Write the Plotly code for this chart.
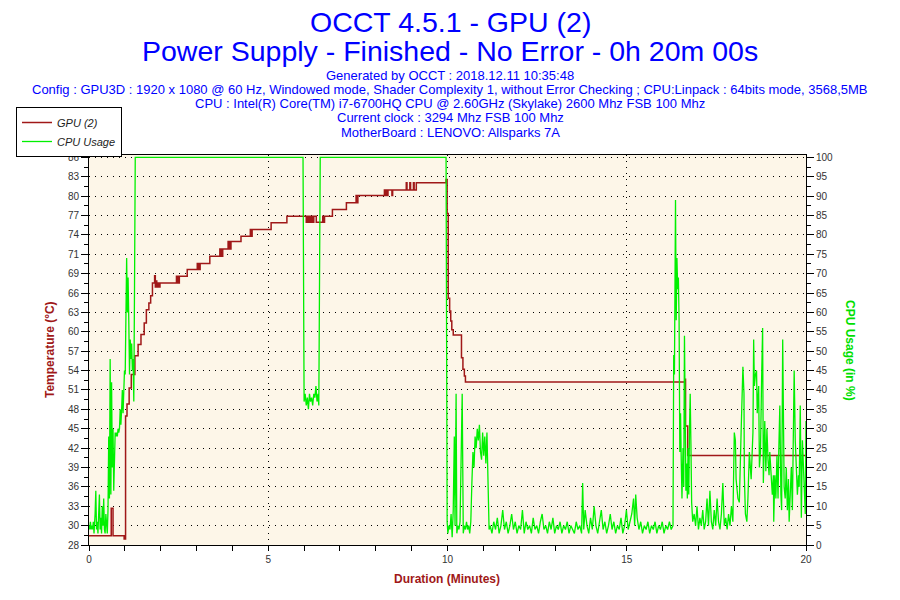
"""OCCT GPU (2) power supply test: GPU temperature and CPU usage over 20 minutes."""

import plotly.graph_objects as go

OUTPUT_FILE = "out.html"

TITLE_LINES = [
    "OCCT 4.5.1 - GPU (2)",
    "Power Supply - Finished - No Error - 0h 20m 00s",
]
INFO_LINES = [
    "Generated by OCCT : 2018.12.11 10:35:48",
    "Config : GPU3D : 1920 x 1080 @ 60 Hz, Windowed mode, Shader Complexity 1, "
    "without Error Checking ; CPU:Linpack : 64bits mode, 3568,5MB",
    "CPU : Intel(R) Core(TM) i7-6700HQ CPU @ 2.60GHz (Skylake) 2600 Mhz FSB 100 Mhz",
    "Current clock : 3294 Mhz FSB 100 Mhz",
    "MotherBoard : LENOVO: Allsparks 7A",
]

# left axis labels as OCCT prints them (21 evenly spaced ticks from 28 to 86)
TEMP_TICK_LABELS = ["28", "30", "33", "36", "39", "42", "45", "48", "51", "54", "57",
                    "60", "63", "66", "69", "71", "74", "77", "80", "83", "86"]
TEMP_MIN, TEMP_MAX = 28, 86
CPU_MIN, CPU_MAX = 0, 100

# GPU temperature, stepwise (minutes, deg C)
GPU_MINUTES = [
    0.00, 0.62, 0.67, 0.98, 1.02, 1.06, 1.12, 1.18, 1.28, 1.37, 1.45, 1.54, 1.60,
    1.67, 1.72, 1.77, 1.83, 1.85, 1.87, 1.89, 1.92, 1.95, 1.98, 2.44, 2.46, 2.48,
    2.50, 2.52, 2.74, 3.02, 3.04, 3.06, 3.08, 3.10, 3.37, 3.65, 3.67, 3.69, 3.71,
    3.73, 3.88, 3.90, 3.92, 3.94, 3.96, 4.24, 4.50, 4.52, 4.55, 5.08, 5.52, 6.06,
    6.08, 6.10, 6.13, 6.17, 6.20, 6.24, 6.27, 6.34, 6.52, 6.54, 6.57, 6.79, 7.18,
    7.45, 7.47, 7.50, 8.24, 8.26, 8.29, 8.31, 8.34, 8.45, 8.47, 8.85, 8.87, 8.95,
    8.97, 9.05, 9.07, 9.13, 9.96, 9.99, 10.02, 10.06, 10.09, 10.12, 10.16, 10.39,
    10.43, 10.47, 10.50, 16.62, 16.64, 16.70, 20.00,
]
GPU_TEMP = [
    29.4, 33.5, 29.4, 28.9, 47.3, 49.1, 51.5, 53.5, 56.3, 58.0, 59.5, 61.2, 63.2,
    64.2, 65.3, 67.2, 68.3, 66.6, 67.5, 66.6, 67.2, 66.6, 67.2, 68.2, 67.2, 68.2,
    67.2, 68.2, 69.2, 70.1, 69.2, 70.1, 69.2, 70.1, 71.2, 72.3, 71.2, 72.3, 71.2,
    72.3, 73.4, 72.3, 73.4, 72.3, 73.4, 74.2, 75.2, 74.2, 75.2, 76.2, 77.2, 76.3,
    77.2, 76.3, 77.2, 76.3, 77.2, 76.3, 77.2, 76.3, 77.2, 76.3, 77.2, 78.2, 79.2,
    80.3, 79.2, 80.3, 81.1, 80.3, 81.1, 80.3, 81.1, 80.3, 81.1, 82.2, 81.1, 82.2,
    81.1, 82.2, 81.1, 82.2, 82.7, 77.6, 64.9, 63.0, 61.5, 60.2, 59.4, 56.0,
    54.3, 53.3, 52.4, 52.8, 45.8, 41.4, 41.4,
]

# CPU usage (minutes, %)
CPU_MINUTES = [
    # warm-up
    0.00, 0.02, 0.04, 0.06, 0.08, 0.10, 0.12, 0.14, 0.17, 0.19, 0.21, 0.23, 0.25,
    0.27, 0.29, 0.31, 0.33, 0.35, 0.37, 0.39, 0.41, 0.43, 0.45, 0.47, 0.49, 0.51,
    0.53, 0.55, 0.57, 0.59, 0.61, 0.63, 0.65, 0.67, 0.69, 0.71, 0.73, 0.75, 0.77,
    0.79, 0.81, 0.83, 0.85, 0.87, 0.89, 0.91, 0.93, 0.95, 0.97, 0.99, 1.01, 1.03,
    1.05, 1.07, 1.09, 1.11, 1.13, 1.15, 1.17, 1.19, 1.21, 1.23, 1.25, 1.27, 1.29,
    # full load, short dip, full load
    5.97, 5.98, 6.00, 6.03, 6.06, 6.09, 6.12, 6.15, 6.18, 6.21, 6.24, 6.27, 6.30,
    6.33, 6.36, 6.39, 6.41, 6.43, 6.45, 9.96, 9.97,
    # after the test
    9.99, 10.01, 10.04, 10.07, 10.10, 10.13, 10.16, 10.19, 10.21, 10.24, 10.26,
    10.29, 10.32, 10.35, 10.38, 10.41, 10.44, 10.47, 10.50, 10.53, 10.56, 10.59,
    10.62, 10.65, 10.68, 10.71, 10.74, 10.77, 10.80, 10.83, 10.86, 10.89, 10.92,
    10.95, 10.98, 11.01, 11.04, 11.07, 11.10, 11.13, 11.16,
    11.19, 11.24, 11.29, 11.34, 11.39, 11.44, 11.49, 11.54, 11.59, 11.64, 11.69,
    11.74, 11.79, 11.84, 11.89, 11.94, 11.99, 12.04, 12.09, 12.14, 12.19, 12.24,
    12.29, 12.34, 12.39, 12.44, 12.49, 12.54, 12.59, 12.64, 12.69, 12.74, 12.79,
    12.84, 12.89, 12.94, 12.99, 13.04, 13.09, 13.14, 13.19, 13.24, 13.29, 13.34,
    13.39, 13.44, 13.49, 13.54, 13.59, 13.64, 13.69, 13.74, 13.77, 13.80, 13.84,
    13.89, 13.94, 13.99, 14.04, 14.09, 14.14, 14.19, 14.24, 14.29, 14.34, 14.39,
    14.44, 14.49, 14.54, 14.59, 14.64, 14.69, 14.74, 14.79, 14.84, 14.89, 14.94,
    14.99, 15.04, 15.09, 15.14, 15.19, 15.22, 15.25, 15.29, 15.34, 15.39, 15.44,
    15.49, 15.54, 15.59, 15.64, 15.69, 15.74, 15.79, 15.84, 15.89, 15.94, 15.99,
    16.04, 16.09, 16.14, 16.19, 16.24, 16.29,
    16.31, 16.33, 16.36, 16.38, 16.40, 16.42, 16.44, 16.46, 16.48, 16.50, 16.52,
    16.54, 16.57, 16.59, 16.61, 16.63, 16.65, 16.67, 16.69, 16.71, 16.73, 16.75,
    16.77, 16.79, 16.81, 16.84,
    16.88, 16.92, 16.96, 17.00, 17.04, 17.08, 17.12, 17.16, 17.20, 17.24, 17.28,
    17.32, 17.36, 17.40, 17.44, 17.48, 17.52, 17.56, 17.60, 17.64, 17.68, 17.72,
    17.76, 17.80, 17.84, 17.88, 17.92, 17.96,
    18.00, 18.03, 18.05, 18.10, 18.14, 18.19, 18.24, 18.27, 18.28, 18.31, 18.35,
    18.38, 18.42, 18.47, 18.52, 18.54, 18.56, 18.59, 18.62, 18.64, 18.66, 18.68,
    18.70, 18.73, 18.76, 18.79, 18.81, 18.83, 18.85, 18.88, 18.91, 18.94, 18.97,
    18.99, 19.03, 19.06, 19.09, 19.10, 19.13, 19.16, 19.19, 19.22, 19.24, 19.27,
    19.30, 19.32, 19.35, 19.37, 19.39, 19.42, 19.45, 19.48, 19.51, 19.53, 19.56,
    19.59, 19.62, 19.65, 19.67, 19.70, 19.73, 19.76, 19.79, 19.81, 19.84, 19.87,
    19.90, 19.93, 19.95, 19.98, 20.00,
]
CPU_USAGE = [
    5, 4, 6, 4, 5, 4, 6, 3, 8, 14, 4, 6, 3,
    9, 13, 4, 7, 3, 10, 5, 12, 4, 3, 8, 4, 3,
    9, 28, 12, 48, 13, 42, 20, 30, 14, 27, 29, 28, 29,
    28, 30, 29, 30, 35, 31, 35, 40, 34, 40, 45, 44, 68,
    74, 60, 69, 58, 44, 53, 48, 52, 45, 48, 37, 67, 100,
    100, 55, 37, 39, 36, 38, 35, 39, 37, 38, 36, 39, 38,
    41, 37, 39, 36, 68, 100, 100, 53,
    6, 3, 5, 4, 8, 2, 9, 28, 5, 39, 3,
    5, 4, 6, 22, 39, 3, 5, 4, 6, 4, 5,
    3, 6, 16, 24, 20, 28, 25, 30, 27, 31, 24,
    22, 29, 23, 28, 21, 29, 12, 4,
    5, 3, 6, 4, 7, 3, 5, 9, 4, 6, 3,
    5, 8, 4, 6, 3, 5, 4, 9, 3, 6, 4,
    5, 3, 7, 4, 5, 3, 6, 8, 4, 5, 3,
    6, 4, 7, 3, 5, 4, 6, 3, 5, 4, 6,
    3, 5, 4, 3, 6, 4, 5, 3, 16, 4, 9,
    5, 3, 7, 4, 10, 5, 3, 6, 9, 4, 6,
    3, 5, 8, 4, 6, 3, 5, 4, 7, 3, 5,
    9, 4, 6, 8, 12, 5, 13, 7, 4, 6, 3,
    5, 4, 6, 3, 5, 4, 6, 3, 5, 4, 6,
    3, 5, 4, 6, 4, 5,
    49, 44, 89, 58, 74, 66, 69, 58, 24, 34, 22,
    12, 25, 15, 54, 27, 14, 21, 12, 25, 13, 30,
    39, 26, 11, 6,
    8, 5, 10, 4, 7, 5, 9, 4, 6, 12, 5,
    14, 6, 4, 9, 5, 12, 6, 4, 8, 16, 5,
    7, 4, 8, 5, 10, 6,
    29, 27, 17, 12, 11, 29, 46, 39, 18, 8, 6,
    12, 24, 17, 29, 53, 41, 44, 45, 34, 37, 41,
    20, 24, 42, 56, 16, 27, 32, 19, 30, 22, 18,
    24, 18, 13, 18, 6, 18, 12, 23, 12, 24, 36,
    13, 9, 53, 31, 15, 12, 20, 9, 17, 6, 12,
    20, 9, 33, 45, 27, 18, 13, 18, 15, 36, 7,
    27, 18, 12, 8, 32,
]

GPU_COLOR = "#a01818"
CPU_COLOR = "#00f000"
TITLE_BLUE = "#0000ff"
FONT = "Liberation Sans"

# the page body keeps its default 8px margin, so the figure is drawn 8px in
PAGE_W, PAGE_H, BODY_MARGIN = 900, 600, 8
FIG_W, FIG_H = PAGE_W - 2 * BODY_MARGIN, PAGE_H - 2 * BODY_MARGIN
# plot area in page pixels (left, top, right, bottom)
PLOT_L, PLOT_T, PLOT_R, PLOT_B = 89, 155, 806, 545
# a little headroom so the 100 % line is not hidden under the frame
HEADROOM = 0.006


def px_x(x):
    return (x - PLOT_L) / (PLOT_R - PLOT_L)


def px_y(y):
    return (PLOT_B - y) / (PLOT_B - PLOT_T)


def create_figure() -> go.Figure:
    n = len(TEMP_TICK_LABELS) - 1
    step = (TEMP_MAX - TEMP_MIN) / n
    temp_ticks = [TEMP_MIN + i * step for i in range(n + 1)]
    temp_minor = [v + step / 2 for v in temp_ticks[:-1]]
    temp_range = [TEMP_MIN, TEMP_MAX + (TEMP_MAX - TEMP_MIN) * HEADROOM]
    cpu_range = [CPU_MIN, CPU_MAX + (CPU_MAX - CPU_MIN) * HEADROOM]

    fig = go.Figure()
    fig.add_trace(go.Scatter(
        x=GPU_MINUTES, y=GPU_TEMP, mode="lines", name="<i>GPU (2)</i>",
        line=dict(color=GPU_COLOR, width=1.5, shape="hv"),
    ))
    fig.add_trace(go.Scatter(
        x=CPU_MINUTES, y=CPU_USAGE, mode="lines", name="<i>CPU Usage</i>",
        line=dict(color=CPU_COLOR, width=1.3), yaxis="y2",
    ))

    dots = "1px,5px"
    tickfont = dict(family=FONT, size=10, color="#333333")
    centred = dict(xref="paper", yref="paper", showarrow=False,
                   xanchor="center", yanchor="middle")

    annotations = []
    for text, ypx in zip(TITLE_LINES, [22, 51]):
        annotations.append(dict(
            centred, text=text, x=px_x(450), y=px_y(ypx),
            font=dict(family=FONT, size=28.5, color=TITLE_BLUE),
        ))
    for i, text in enumerate(INFO_LINES):
        annotations.append(dict(
            centred, text=text, x=px_x(450), y=px_y(75 + i * 14.3),
            font=dict(family=FONT, size=13, color=TITLE_BLUE),
        ))
    axis_title = dict(family=FONT, size=12, weight="bold")
    annotations += [
        dict(centred, text="Duration (Minutes)", x=px_x(447), y=px_y(579),
             font=dict(axis_title, color="#a01818")),
        dict(centred, text="Temperature (°C)", x=px_x(50), y=0.5, textangle=-90,
             font=dict(axis_title, color="#a01818")),
        dict(centred, text="CPU Usage (in %)", x=px_x(850), y=0.5, textangle=90,
             font=dict(axis_title, color="#00e000")),
    ]

    fig.update_layout(
        width=FIG_W, height=FIG_H,
        margin=dict(l=PLOT_L - BODY_MARGIN, r=FIG_W + BODY_MARGIN - PLOT_R,
                    t=PLOT_T - BODY_MARGIN, b=FIG_H + BODY_MARGIN - PLOT_B,
                    pad=0, autoexpand=False),
        paper_bgcolor="white",
        plot_bgcolor="#fdf6e8",
        showlegend=True,
        legend=dict(
            xref="container", yref="container",
            x=(16 - BODY_MARGIN) / FIG_W, y=1 - (107 - BODY_MARGIN) / FIG_H,
            xanchor="left", yanchor="top",
            bgcolor="white", bordercolor="black", borderwidth=1,
            font=dict(family=FONT, size=11, color="#222222"),
            tracegroupgap=0, itemwidth=30,
        ),
        xaxis=dict(
            range=[0, 20], tick0=0, dtick=5, ticks="outside", ticklen=5,
            tickcolor="black", tickfont=tickfont, showline=True, linecolor="black",
            mirror=True, showgrid=True, gridcolor="black", griddash=dots,
            gridwidth=1, zeroline=False, automargin=False,
            minor=dict(dtick=1, ticks="outside", ticklen=5, tickcolor="black",
                       showgrid=False),
        ),
        yaxis=dict(
            range=temp_range, tickmode="array", tickvals=temp_ticks,
            ticktext=TEMP_TICK_LABELS, ticks="outside", ticklen=7,
            tickcolor="black", tickfont=tickfont, showline=True, linecolor="black",
            showgrid=False, zeroline=False, automargin=False,
            minor=dict(tickmode="array", tickvals=temp_minor, ticks="outside",
                       ticklen=4, tickcolor="black", showgrid=False),
        ),
        yaxis2=dict(
            range=cpu_range, overlaying="y", side="right", tick0=0, dtick=5,
            ticks="outside", ticklen=7, tickcolor="black", tickfont=tickfont,
            showline=True, linecolor="black", showgrid=True, gridcolor="black",
            griddash=dots, gridwidth=1, zeroline=False, automargin=False,
            minor=dict(dtick=2.5, ticks="outside", ticklen=4, tickcolor="black",
                       showgrid=False),
        ),
        annotations=annotations,
    )
    return fig


if __name__ == "__main__":
    fig = create_figure()
    fig.write_html(OUTPUT_FILE)
    print(f"Chart saved to {OUTPUT_FILE}")
